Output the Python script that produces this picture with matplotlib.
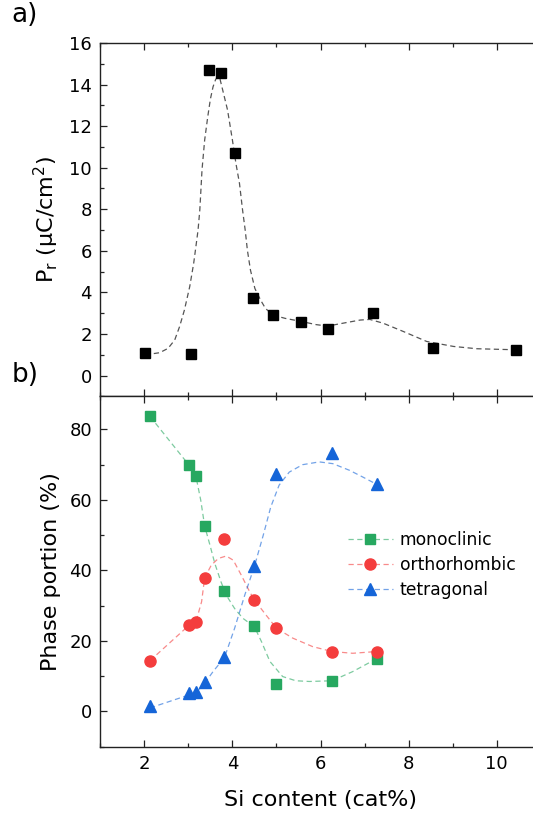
import matplotlib
matplotlib.use("Agg")
import matplotlib.pyplot as plt
from matplotlib.colors import to_rgba
from matplotlib.ticker import MultipleLocator

# --- data ---
# a) remanent polarization
si_pr = [2.02, 3.07, 3.47, 3.75, 4.05, 4.47, 4.93, 5.56, 6.16, 7.19, 8.55, 10.43]
pr = [1.1, 1.05, 14.7, 14.55, 10.73, 3.75, 2.92, 2.6, 2.25, 3.0, 1.32, 1.24]

# dashed guide line (traced)
pr_fit_x = [2.02, 2.16, 2.35, 2.54, 2.69, 2.80, 2.91, 3.03, 3.12, 3.18, 3.22, 3.26,
            3.31, 3.37, 3.44, 3.50, 3.56, 3.62, 3.67, 3.72, 3.78, 3.89, 4.00, 4.08,
            4.16, 4.23, 4.29, 4.34, 4.41, 4.51, 4.64, 4.75, 4.92, 5.20, 5.57, 5.90,
            6.16, 6.59, 6.90, 7.12, 7.42, 7.88, 8.41, 9.02, 9.55, 10.43]
pr_fit_y = [1.10, 1.04, 1.10, 1.31, 1.71, 2.35, 3.15, 4.27, 5.39, 6.35, 7.00, 7.97,
            9.90, 11.33, 12.45, 13.30, 13.89, 14.25, 14.38, 14.25, 13.73, 12.77, 11.33, 10.20,
            9.25, 7.97, 7.00, 6.03, 5.07, 4.19, 3.63, 3.23, 2.91, 2.75, 2.60, 2.45,
            2.38, 2.55, 2.67, 2.70, 2.52, 2.12, 1.64, 1.40, 1.29, 1.24]

# b) phase fractions
si_ph = [2.13, 3.02, 3.17, 3.37, 3.82, 4.50, 5.00, 6.27, 7.28]
mono = [83.7, 69.8, 66.8, 52.6, 34.1, 24.1, 7.7, 8.6, 15.0]
ortho = [14.4, 24.5, 25.4, 37.9, 48.9, 31.6, 23.7, 17.0, 17.0]
tetra = [1.6, 5.1, 5.5, 8.3, 15.4, 41.3, 67.4, 73.4, 64.5]

mono_fit_x = [2.13, 3.02, 3.17, 3.28, 3.37, 3.49, 3.60, 3.74, 3.86, 4.05, 4.24, 4.50,
              4.66, 4.85, 5.14, 5.44, 5.75, 6.26, 6.73, 7.28]
mono_fit_y = [83.7, 69.8, 66.8, 60.0, 52.6, 47.2, 42.0, 36.8, 33.0, 29.2, 26.4, 24.0,
              19.8, 14.2, 9.9, 8.7, 8.5, 8.7, 11.3, 15.0]
ortho_fit_x = [2.13, 3.02, 3.17, 3.30, 3.37, 3.52, 3.68, 3.86, 4.02, 4.20, 4.39, 4.50,
               4.76, 5.00, 5.37, 5.82, 6.26, 6.73, 7.28]
ortho_fit_y = [14.4, 24.5, 25.4, 31.1, 37.9, 41.5, 43.4, 44.1, 42.9, 38.7, 34.0, 31.6,
               27.4, 23.6, 20.8, 18.4, 17.0, 16.5, 17.0]
tetra_fit_x = [2.13, 3.02, 3.17, 3.37, 3.56, 3.82, 4.05, 4.28, 4.50, 4.70, 4.87, 5.06,
               5.29, 5.59, 5.97, 6.28, 6.66, 6.96, 7.28]
tetra_fit_y = [1.0, 4.7, 5.3, 8.0, 11.3, 15.3, 23.6, 33.0, 41.2, 50.0, 58.0, 64.2,
               67.9, 70.0, 70.8, 70.3, 68.4, 66.5, 64.4]

labels = ["monoclinic", "orthorhombic", "tetragonal"]
c_green = "#27A860"
c_red = "#F43D3D"
c_blue = "#1565D8"

plt.rcParams["font.family"] = ["DejaVu Sans"]
plt.rcParams["mathtext.fontset"] = "dejavusans"

fig = plt.figure(figsize=(5.33, 8.14), dpi=100)
ax1 = fig.add_axes([0.1881, 0.5131, 0.8265, 0.4341])
ax2 = fig.add_axes([0.1881, 0.0827, 0.8265, 0.4304])

dash = (4.2, 2.8)

# top panel
ax1.plot(pr_fit_x, pr_fit_y, color="#555555", lw=0.9, dashes=dash)
ax1.plot(si_pr, pr, ls="none", marker="s", ms=7.6, color="black")
ax1.set_xlim(1, 11)
ax1.set_ylim(-1, 16)
ax1.set_ylabel("P$_\\mathrm{r}$ (μC/cm$^2$)", fontsize=16, labelpad=6)
ax1.tick_params(labelbottom=False)

# bottom panel: light dashed guides, opaque markers
ax2.plot(mono_fit_x, mono_fit_y, color=to_rgba(c_green, 0.6), lw=0.9, dashes=dash)
ax2.plot(ortho_fit_x, ortho_fit_y, color=to_rgba(c_red, 0.6), lw=0.9, dashes=dash)
ax2.plot(tetra_fit_x, tetra_fit_y, color=to_rgba(c_blue, 0.6), lw=0.9, dashes=dash)
ax2.plot(si_ph, mono, ls="none", marker="s", ms=7.4, color=c_green)
ax2.plot(si_ph, ortho, ls="none", marker="o", ms=8.0, color=c_red)
ax2.plot(si_ph, tetra, ls="none", marker="^", ms=8.6, color=c_blue)
ax2.set_xlim(1, 11)
ax2.set_ylim(-10, 89.4)
ax2.set_ylabel("Phase portion (%)", fontsize=16, labelpad=6)
ax2.set_xlabel("Si content (cat%)", fontsize=16, labelpad=12)

# legend proxies (dashed line + marker)
handles = []
for c, m, s in [(c_green, "s", 7.4), (c_red, "o", 8.0), (c_blue, "^", 8.6)]:
    h, = ax2.plot([], [], color=to_rgba(c, 0.6), marker=m, ms=s, mfc=c, mec=c,
                  lw=0.9, dashes=dash)
    handles.append(h)
ax2.legend(handles, labels, loc="upper left", bbox_to_anchor=(0.563, 0.615),
           frameon=False, fontsize=12.3, handlelength=2.6, handletextpad=0.4,
           labelspacing=0.4, borderpad=0, borderaxespad=0)

for ax in (ax1, ax2):
    ax.xaxis.set_major_locator(MultipleLocator(2))
    ax.xaxis.set_minor_locator(MultipleLocator(1))
    ax.tick_params(which="both", direction="in", top=True, right=False, width=0.9,
                   colors="#222222", labelcolor="black", labelsize=13, pad=6)
    ax.tick_params(which="major", length=5)
    ax.tick_params(which="minor", length=3)
    for s in ax.spines.values():
        s.set_linewidth(1.0)
        s.set_color("#222222")

ax1.yaxis.set_major_locator(MultipleLocator(2))
ax1.yaxis.set_minor_locator(MultipleLocator(1))
ax2.yaxis.set_major_locator(MultipleLocator(20))
ax2.yaxis.set_minor_locator(MultipleLocator(10))

fig.text(0.022, 0.981, "a)", fontsize=19, va="center", ha="left")
fig.text(0.022, 0.539, "b)", fontsize=19, va="center", ha="left")

fig.savefig("out.png", dpi=100)
